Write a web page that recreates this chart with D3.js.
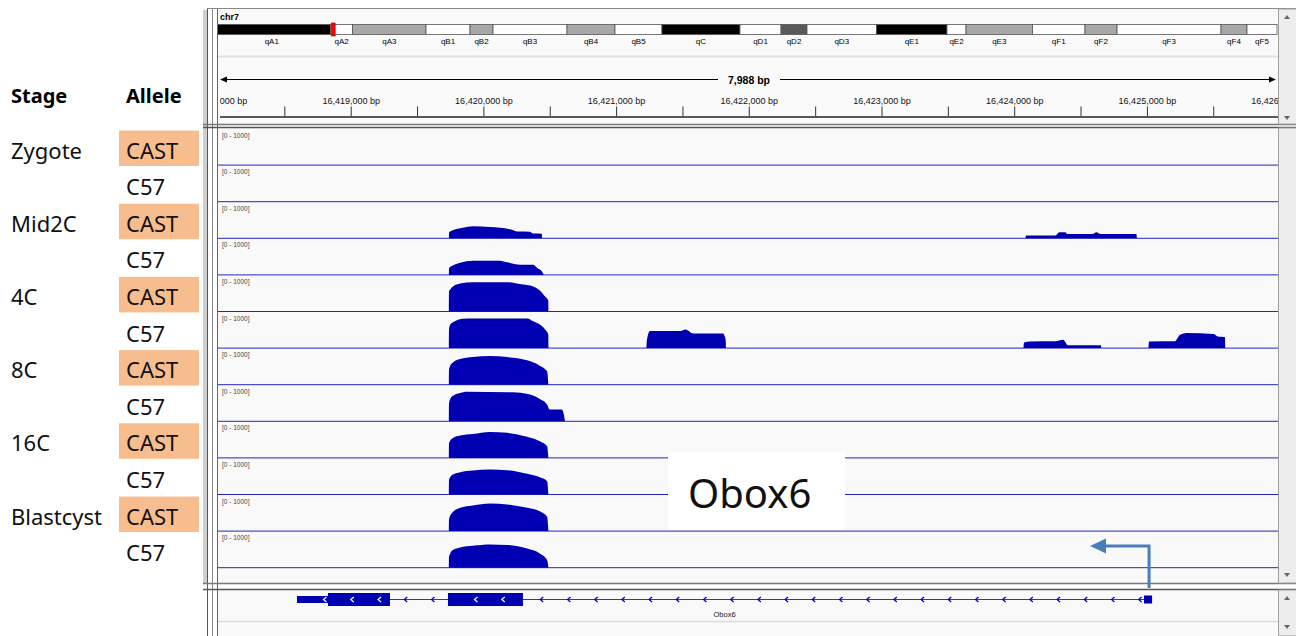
<!DOCTYPE html>
<html>
<head>
<meta charset="utf-8">
<script src="https://cdn.jsdelivr.net/npm/d3@7"></script>
<style>
  body { margin: 0; background: #fff; }
  svg { display: block; }
</style>
</head>
<body>
<svg width="1296" height="636"></svg>
<script>
// ---- data ----
const chrom = "chr7";
const viewStart = 16418000, viewEnd = 16425988;
const stages = ["Zygote", "Mid2C", "4C", "8C", "16C", "Blastcyst"];
const alleles = ["CAST", "C57"];
const dataRange = [0, 1000];

// cytobands of chr7 (Mb)
const bandNames  = ["qA1","qA2","qA3","qB1","qB2","qB3","qB4","qB5","qC","qD1","qD2","qD3","qE1","qE2","qE3","qF1","qF2","qF3","qF4","qF5"];
const bandEnds   = [16.06, 19.08, 29.11, 35.12, 38.27, 48.38, 54.94, 61.36, 72.02, 77.63, 81.18, 90.68, 100.31, 102.91, 112.0, 119.17, 123.55, 137.76, 141.31, 145.41];
const bandStains = ["gpos100","gneg","gpos50","gneg","gpos50","gneg","gpos50","gneg","gpos100","gneg","gpos75","gneg","gpos100","gneg","gpos50","gneg","gpos50","gneg","gpos50","gneg"];

const rulerTicks = d3.range(16418000, 16426001, 500);

// coverage tracks: list of peaks, each peak = [position, value] pairs
const zygoteCast = [];
const zygoteC57 = [];
const mid2cCast = [
  [[16419740,0],[16419742,165],[16419770,220],[16419845,290],[16419920,330],[16420050,310],[16420125,290],[16420215,235],[16420255,185],[16420350,180],[16420375,130],[16420440,125],[16420442,0]],
  [[16424085,0],[16424089,75],[16424310,75],[16424340,165],[16424385,165],[16424400,115],[16424590,115],[16424620,165],[16424650,115],[16424920,115],[16424925,0]]
];
const mid2cC57 = [
  [[16419740,0],[16419742,190],[16419770,255],[16419825,330],[16419920,390],[16420125,390],[16420180,345],[16420280,280],[16420375,280],[16420405,190],[16420440,100],[16420455,0]]
];
const c4Cast = [
  [[16419740,0],[16419741,550],[16419750,600],[16419770,685],[16419825,765],[16419920,800],[16420180,800],[16420300,735],[16420375,685],[16420425,575],[16420465,410],[16420489,300],[16420490,0]]
];
const c4C57 = [
  [[16419740,0],[16419741,510],[16419750,645],[16419785,735],[16419845,800],[16419920,810],[16420330,810],[16420375,735],[16420425,645],[16420465,510],[16420489,375],[16420490,0]],
  [[16421228,0],[16421233,240],[16421255,465],[16421480,465],[16421525,510],[16421580,400],[16421805,400],[16421825,240],[16421828,0]],
  [[16424070,0],[16424074,155],[16424120,180],[16424310,185],[16424368,230],[16424406,80],[16424654,80],[16424655,0]],
  [[16425012,0],[16425016,180],[16425210,185],[16425250,365],[16425300,410],[16425500,385],[16425535,320],[16425588,300],[16425590,0]]
];
const c8Cast = [
  [[16419740,0],[16419741,410],[16419765,590],[16419825,700],[16419920,755],[16420050,785],[16420180,755],[16420330,665],[16420425,520],[16420480,365],[16420490,0]]
];
const c8C57 = [
  [[16419740,0],[16419741,500],[16419765,685],[16419825,775],[16419875,810],[16420255,790],[16420350,730],[16420425,610],[16420480,455],[16420500,320],[16420590,320],[16420600,275],[16420615,0]]
];
const c16Cast = [
  [[16419740,0],[16419741,410],[16419770,545],[16419825,610],[16419920,655],[16420050,710],[16420180,685],[16420330,575],[16420425,455],[16420480,320],[16420490,0]]
];
const c16C57 = [
  [[16419740,0],[16419741,410],[16419770,545],[16419825,610],[16419920,655],[16420050,685],[16420180,665],[16420330,565],[16420425,470],[16420480,365],[16420490,0]]
];
const blastCast = [
  [[16419740,0],[16419741,320],[16419765,500],[16419825,635],[16419920,700],[16420050,755],[16420180,730],[16420330,635],[16420425,545],[16420480,390],[16420490,0]]
];
const blastC57 = [
  [[16419740,0],[16419741,300],[16419770,485],[16419825,555],[16419920,600],[16420050,635],[16420180,620],[16420330,525],[16420425,390],[16420480,210],[16420490,0]]
];

// gene model (minus strand)
const geneName = "Obox6";
const geneStart = 16418595, geneEnd = 16425039;
const cdsStart = 16418829, cdsEnd = 16420298;
const exonStarts = [16418595, 16419733, 16424978];
const exonEnds   = [16419296, 16420298, 16425039];

// ---- layout ----
const svg = d3.select("svg");
const L = 218, R = 1278;
const x = d3.scaleLinear().domain([viewStart, viewEnd]).range([L, R]);
const rowH = 36.6, dataTop = 128.5;
const tracks = [zygoteCast, zygoteC57, mid2cCast, mid2cC57, c4Cast, c4C57, c8Cast, c8C57, c16Cast, c16C57, blastCast, blastC57];
const igvBlue = "#0000b2";
const igvFont = "Liberation Sans, Arial, sans-serif";
const txtFont = "Noto Sans, sans-serif";

const defs = svg.append("defs");
defs.append("clipPath").attr("id", "clipData")
  .append("rect").attr("x", L).attr("y", 0).attr("width", R - L).attr("height", 636);
defs.append("clipPath").attr("id", "clipRuler")
  .append("rect").attr("x", L + 2).attr("y", 0).attr("width", R - L - 2).attr("height", 636);

// panel backgrounds
svg.append("rect").attr("x", L).attr("y", 8).attr("width", R - L).attr("height", 117).attr("fill", "#fafafa");
svg.append("rect").attr("x", L).attr("y", 128).attr("width", R - L).attr("height", 455).attr("fill", "#f9f9f9");
svg.append("rect").attr("x", L).attr("y", 590).attr("width", R - L).attr("height", 46).attr("fill", "#f9f9f9");

// ---- ideogram ----
const ideo = d3.scaleLinear().domain([0, 145.41]).range([213, R - 1]);
const stainColor = { gneg: "#ffffff", gpos50: "#a8a8a8", gpos75: "#5a5a5a", gpos100: "#000000" };
const bands = bandNames.map((n, i) => ({ name: n, start: i ? bandEnds[i - 1] : 0, end: bandEnds[i], stain: bandStains[i] }));
const ig = svg.append("g").attr("clip-path", "url(#clipData)");
ig.selectAll("rect.band").data(bands).enter().append("rect")
  .attr("class", "band")
  .attr("x", d => ideo(d.start)).attr("y", 24.5)
  .attr("width", d => ideo(d.end) - ideo(d.start)).attr("height", 10)
  .attr("fill", d => stainColor[d.stain])
  .attr("stroke", "#555").attr("stroke-width", 0.8);
ig.selectAll("text.band").data(bands).enter().append("text")
  .attr("x", d => (ideo(d.start) + ideo(d.end)) / 2)
  .attr("y", 44)
  .attr("text-anchor", "middle")
  .style("font-family", igvFont).style("font-size", "8px").attr("fill", "#000")
  .text(d => d.name);
// current view marker
const vMid = (viewStart + viewEnd) / 2 / 1e6;
ig.append("rect").attr("x", ideo(vMid) - 2).attr("y", 23).attr("width", 4).attr("height", 13)
  .attr("fill", "#ff0000").attr("stroke", "#c00000").attr("stroke-width", 0.6);

svg.append("text").attr("x", 220).attr("y", 20)
  .style("font-family", igvFont).style("font-size", "9px").style("font-weight", "bold")
  .text(chrom);
svg.append("line").attr("x1", L).attr("x2", R).attr("y1", 56.5).attr("y2", 56.5)
  .attr("stroke", "#e0e0e4").attr("stroke-width", 2);

// ---- ruler ----
const spanText = d3.format(",")(viewEnd - viewStart) + " bp";
svg.append("line").attr("x1", 222).attr("x2", 718).attr("y1", 79.5).attr("y2", 79.5).attr("stroke", "#000");
svg.append("line").attr("x1", 780).attr("x2", R - 4).attr("y1", 79.5).attr("y2", 79.5).attr("stroke", "#000");
svg.append("path").attr("d", `M${L + 2},79.5 l7,-3 v6 z`).attr("fill", "#000");
svg.append("path").attr("d", `M${R - 2},79.5 l-7,-3 v6 z`).attr("fill", "#000");
svg.append("text").attr("x", 749).attr("y", 83.5).attr("text-anchor", "middle")
  .style("font-family", igvFont).style("font-size", "10.5px").style("font-weight", "bold")
  .text(spanText);

const ruler = svg.append("g").attr("clip-path", "url(#clipRuler)")
  .append("g").attr("transform", "translate(0,116.5)")
  .call(d3.axisTop(x).tickValues(rulerTicks).tickSize(10).tickSizeOuter(0).tickPadding(3)
    .tickFormat(d => d % 1000 === 0 ? d3.format(",")(d) + " bp" : ""));
ruler.select(".domain").attr("d", `M${L},0.5H${R}`).attr("stroke", "#222").attr("stroke-width", 1.5);
ruler.selectAll(".tick line").attr("stroke", "#333");
ruler.selectAll(".tick text").style("font-family", igvFont).style("font-size", "9px").attr("fill", "#111");

// ---- data tracks ----
const tg = svg.append("g").attr("clip-path", "url(#clipData)");
tracks.forEach((peaks, i) => {
  const top = dataTop + i * rowH, base = top + rowH;
  const y = d3.scaleLinear().domain(dataRange).range([base, top]);
  const area = d3.area().x(d => x(d[0])).y0(base).y1(d => y(d[1])).curve(d3.curveMonotoneX);
  tg.selectAll(null).data(peaks).enter().append("path")
    .attr("d", area).attr("fill", igvBlue);
  tg.append("line").attr("x1", L).attr("x2", R).attr("y1", base).attr("y2", base)
    .attr("stroke", igvBlue).attr("stroke-opacity", 0.85);
  tg.append("text").attr("x", 222).attr("y", top + 9)
    .style("font-family", igvFont).style("font-size", "6.5px").attr("fill", "#444")
    .text(`[${dataRange[0]} - ${dataRange[1]}]`);
});

// ---- gene track ----
const gy = 599.5;
const gg = svg.append("g").attr("clip-path", "url(#clipData)");
gg.append("line").attr("x1", x(geneStart)).attr("x2", x(geneEnd)).attr("y1", gy).attr("y2", gy)
  .attr("stroke", igvBlue).attr("stroke-opacity", 0.8);
const exons = exonStarts.map((s, i) => ({ start: s, end: exonEnds[i] }));
const pieces = [];
exons.forEach(e => {
  const cs = Math.max(e.start, cdsStart), ce = Math.min(e.end, cdsEnd);
  if (cs < ce) {
    if (e.start < cs) pieces.push({ s: e.start, e: cs, h: 7 });
    pieces.push({ s: cs, e: ce, h: 13 });
    if (ce < e.end) pieces.push({ s: ce, e: e.end, h: 7 });
  } else pieces.push({ s: e.start, e: e.end, h: 8 });
});
gg.selectAll("rect.exon").data(pieces).enter().append("rect")
  .attr("x", d => x(d.s)).attr("width", d => x(d.e) - x(d.s))
  .attr("y", d => gy - d.h / 2).attr("height", d => d.h)
  .attr("fill", igvBlue);
// strand chevrons
const inExon = px => exons.some(e => px > x(e.start) - 3 && px < x(e.end) + 3);
const chev = (px, col) => gg.append("path")
  .attr("d", `M${px + 1.5},${gy - 2.5} L${px - 1.5},${gy} L${px + 1.5},${gy + 2.5}`)
  .attr("fill", "none").attr("stroke", col).attr("stroke-width", 1.2);
for (let px = x(geneStart) + 27.2; px < x(geneEnd) - 10; px += 27.2) {
  if (!inExon(px)) chev(px, igvBlue);
}
exons.forEach(e => {
  if (x(e.end) - x(e.start) < 30) return;
  for (let px = x(e.start) + 28; px < x(e.end) - 6; px += 27.3) chev(px, "#ffffff");
});
gg.append("text").attr("x", (x(geneStart) + x(geneEnd)) / 2).attr("y", 617).attr("text-anchor", "middle")
  .style("font-family", igvFont).style("font-size", "7.5px").attr("fill", "#222").text(geneName);
svg.append("line").attr("x1", L).attr("x2", R).attr("y1", 621.5).attr("y2", 621.5)
  .attr("stroke", "#dcdcdc").attr("stroke-width", 1.5);

// ---- frame ----
const frame = svg.append("g");
frame.append("rect").attr("x", 203).attr("y", 10).attr("width", 4).attr("height", 573).attr("fill", "#cfcfcf");
[[207.5, "#555"], [212.5, "#888"], [217.5, "#666"]].forEach(([fx, c]) =>
  frame.append("line").attr("x1", fx).attr("x2", fx).attr("y1", 8).attr("y2", 636).attr("stroke", c));
frame.append("line").attr("x1", 207).attr("x2", 1296).attr("y1", 8.5).attr("y2", 8.5).attr("stroke", "#888");
[[124.5, "#777"], [127.5, "#555"], [583.5, "#777"], [589.5, "#555"]].forEach(([fy, c]) =>
  frame.append("line").attr("x1", 203).attr("x2", 1296).attr("y1", fy).attr("y2", fy)
    .attr("stroke", c).attr("stroke-width", 1.5));
// right scroll column
[[9, 115], [128, 455], [590, 46]].forEach(([sy, sh]) => {
  frame.append("rect").attr("x", R + 0.5).attr("y", sy).attr("width", 1296 - R).attr("height", sh)
    .attr("fill", "#ededed").attr("stroke", "#a0a0a0");
});
const tri = (cy, up) => frame.append("path")
  .attr("d", up ? `M1284,${cy + 2} l3,-4 l3,4 z` : `M1284,${cy - 2} l3,4 l3,-4 z`).attr("fill", "#666");
tri(17, true); tri(118, false); tri(575, false); tri(598, true); tri(627, false);

// ---- left annotation ----
const castFill = "#f8bd8e";
svg.append("text").attr("x", 11).attr("y", 103)
  .style("font-family", txtFont).style("font-size", "20px").style("font-weight", "bold").text("Stage");
svg.append("text").attr("x", 126).attr("y", 103)
  .style("font-family", txtFont).style("font-size", "20px").style("font-weight", "bold").text("Allele");
const rows = d3.cross(stages, alleles).map(([s, a], i) => ({ stage: s, allele: a, i }));
const lg = svg.append("g");
lg.selectAll("rect").data(rows.filter(r => r.allele === "CAST")).enter().append("rect")
  .attr("x", 119).attr("width", 80).attr("y", d => dataTop + 2 + d.i * rowH).attr("height", 35.5)
  .attr("fill", castFill);
lg.selectAll("text.allele").data(rows).enter().append("text")
  .attr("class", "allele")
  .attr("x", 126).attr("y", d => dataTop + 30 + d.i * rowH)
  .style("font-family", txtFont).style("font-size", "22px").attr("fill", "#111")
  .text(d => d.allele);
lg.selectAll("text.stage").data(rows.filter(r => r.allele === "CAST")).enter().append("text")
  .attr("class", "stage")
  .attr("x", 11).attr("y", d => dataTop + 30 + d.i * rowH)
  .style("font-family", txtFont).style("font-size", "22px").attr("fill", "#111")
  .text(d => d.stage);

// ---- gene callout ----
svg.append("rect").attr("x", 668).attr("y", 452).attr("width", 177).attr("height", 78).attr("fill", "#fff");
svg.append("text").attr("x", 688).attr("y", 508)
  .style("font-family", txtFont).style("font-size", "40px").attr("fill", "#111").text(geneName);
const tssX = x(geneEnd) - 3;
svg.append("path").attr("d", `M${tssX},588 V546 H1104`)
  .attr("fill", "none").attr("stroke", "#4a7ebb").attr("stroke-width", 3);
svg.append("path").attr("d", `M1090,546 L1106,538.5 L1106,553.5 Z`).attr("fill", "#4a7ebb");
</script>
</body>
</html>
